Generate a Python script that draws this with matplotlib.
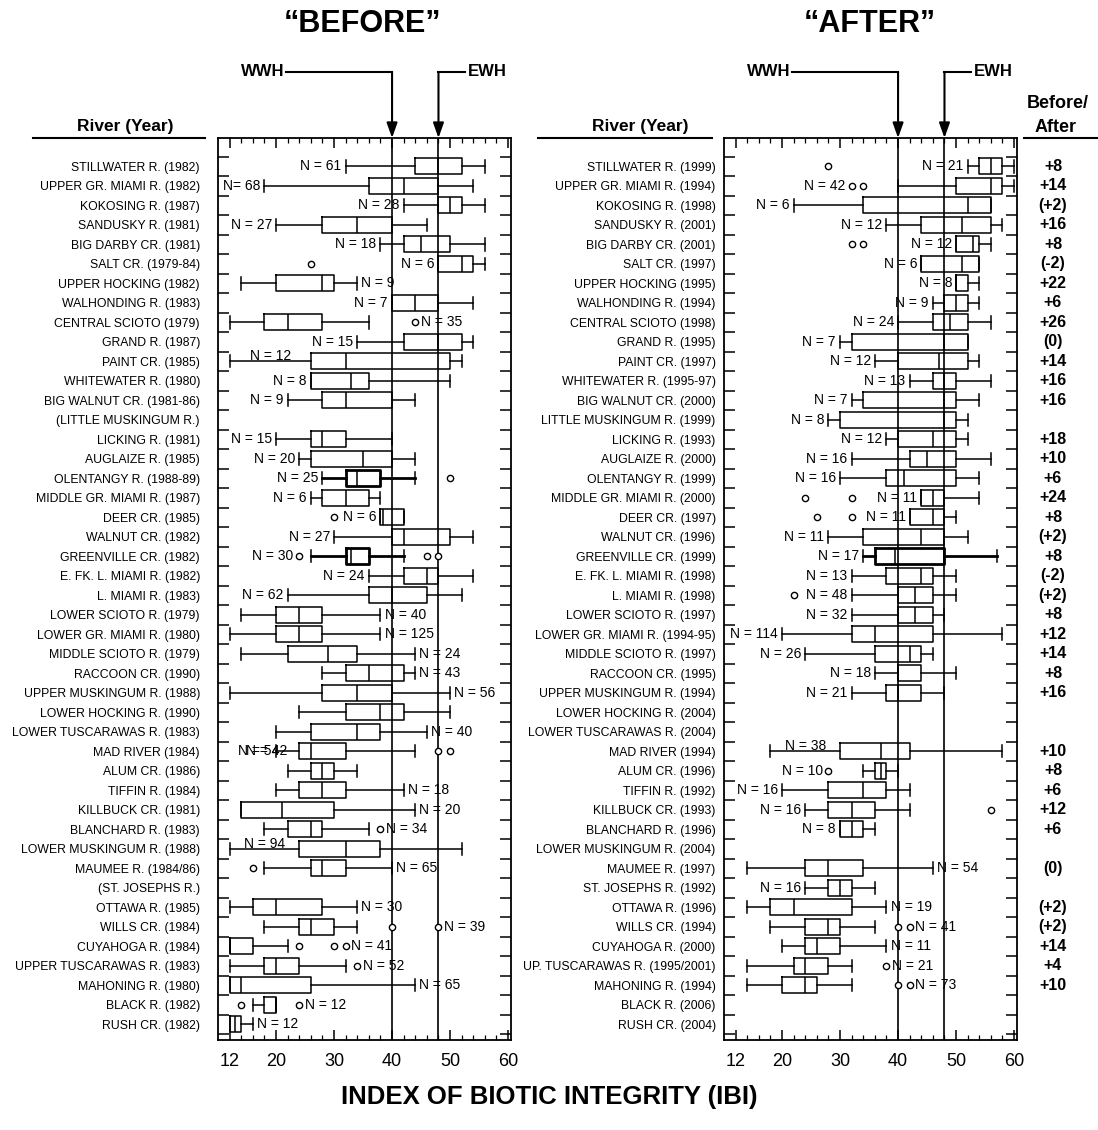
import numpy as np
import matplotlib
matplotlib.use('Agg')
import matplotlib.pyplot as plt
from matplotlib.lines import Line2D
from matplotlib.patches import FancyArrowPatch
from matplotlib.ticker import FixedLocator

W, H = 1098, 1130
NARROW = ['Liberation Sans Narrow', 'Liberation Sans', 'DejaVu Sans']
plt.rcParams['font.family'] = ['Liberation Sans', 'DejaVu Sans']

rivers_before = [
    'STILLWATER R. (1982)', 'UPPER GR. MIAMI R. (1982)', 'KOKOSING R. (1987)',
    'SANDUSKY R. (1981)', 'BIG DARBY CR. (1981)', 'SALT CR. (1979-84)',
    'UPPER HOCKING (1982)', 'WALHONDING R. (1983)', 'CENTRAL SCIOTO (1979)',
    'GRAND R. (1987)', 'PAINT CR. (1985)', 'WHITEWATER R. (1980)',
    'BIG WALNUT CR. (1981-86)', '(LITTLE MUSKINGUM R.)', 'LICKING R. (1981)',
    'AUGLAIZE R. (1985)', 'OLENTANGY R. (1988-89)', 'MIDDLE GR. MIAMI R. (1987)',
    'DEER CR. (1985)', 'WALNUT CR. (1982)', 'GREENVILLE CR. (1982)',
    'E. FK. L. MIAMI R. (1982)', 'L. MIAMI R. (1983)', 'LOWER SCIOTO R. (1979)',
    'LOWER GR. MIAMI R. (1980)', 'MIDDLE SCIOTO R. (1979)', 'RACCOON CR. (1990)',
    'UPPER MUSKINGUM R. (1988)', 'LOWER HOCKING R. (1990)',
    'LOWER TUSCARAWAS R. (1983)', 'MAD RIVER (1984)', 'ALUM CR. (1986)',
    'TIFFIN R. (1984)', 'KILLBUCK CR. (1981)', 'BLANCHARD R. (1983)',
    'LOWER MUSKINGUM R. (1988)', 'MAUMEE R. (1984/86)', '(ST. JOSEPHS R.)',
    'OTTAWA R. (1985)', 'WILLS CR. (1984)', 'CUYAHOGA R. (1984)',
    'UPPER TUSCARAWAS R. (1983)', 'MAHONING R. (1980)', 'BLACK R. (1982)',
    'RUSH CR. (1982)',
]

rivers_after = [
    'STILLWATER R. (1999)', 'UPPER GR. MIAMI R. (1994)', 'KOKOSING R. (1998)',
    'SANDUSKY R. (2001)', 'BIG DARBY CR. (2001)', 'SALT CR. (1997)',
    'UPPER HOCKING (1995)', 'WALHONDING R. (1994)', 'CENTRAL SCIOTO (1998)',
    'GRAND R. (1995)', 'PAINT CR. (1997)', 'WHITEWATER R. (1995-97)',
    'BIG WALNUT CR. (2000)', 'LITTLE MUSKINGUM R. (1999)', 'LICKING R. (1993)',
    'AUGLAIZE R. (2000)', 'OLENTANGY R. (1999)', 'MIDDLE GR. MIAMI R. (2000)',
    'DEER CR. (1997)', 'WALNUT CR. (1996)', 'GREENVILLE CR. (1999)',
    'E. FK. L. MIAMI R. (1998)', 'L. MIAMI R. (1998)', 'LOWER SCIOTO R. (1997)',
    'LOWER GR. MIAMI R. (1994-95)', 'MIDDLE SCIOTO R. (1997)', 'RACCOON CR. (1995)',
    'UPPER MUSKINGUM R. (1994)', 'LOWER HOCKING R. (2004)',
    'LOWER TUSCARAWAS R. (2004)', 'MAD RIVER (1994)', 'ALUM CR. (1996)',
    'TIFFIN R. (1992)', 'KILLBUCK CR. (1993)', 'BLANCHARD R. (1996)',
    'LOWER MUSKINGUM R. (2004)', 'MAUMEE R. (1997)', 'ST. JOSEPHS R. (1992)',
    'OTTAWA R. (1996)', 'WILLS CR. (1994)', 'CUYAHOGA R. (2000)',
    'UP. TUSCARAWAS R. (1995/2001)', 'MAHONING R. (1994)', 'BLACK R. (2006)',
    'RUSH CR. (2004)',
]

# (low whisker, Q1, median, Q3, high whisker); None where no data
ibi_before = [
    (32, 44, 48, 52, 56), (18, 36, 42, 48, 54), (42, 48, 50, 52, 56),
    (20, 28, 34, 40, 46), (38, 42, 45, 50, 56), (48, 48, 52, 54, 56),
    (14, 20, 28, 30, 34), (40, 40, 44, 48, 54), (12, 18, 22, 28, 36),
    (34, 42, 48, 52, 54), (12, 26, 32, 50, 52), (26, 26, 33, 36, 50),
    (22, 28, 32, 40, 44), None, (20, 26, 28, 32, 40),
    (24, 26, 35, 40, 44), (28, 32, 34, 38, 44), (26, 28, 32, 36, 38),
    (38, 38, 38.5, 42, 42), (30, 40, 42, 50, 54), (26, 32, 33, 36, 42),
    (36, 42, 46, 48, 54), (22, 36, 40, 46, 52), (14, 20, 24, 28, 38),
    (12, 20, 24, 28, 38), (14, 22, 29, 34, 44), (28, 32, 36, 42, 44),
    (12, 28, 34, 40, 50), (24, 32, 38, 42, 50), (20, 26, 34, 38, 46),
    (20, 24, 26, 32, 44), (22, 26, 28, 30, 34), (20, 24, 28, 32, 42),
    (14, 14, 21, 30, 44), (18, 22, 26, 28, 36), (12, 24, 32, 38, 52),
    (18, 26, 28, 32, 40), None, (12, 16, 20, 28, 34),
    (18, 24, 26, 30, 34), (12, 12, 12, 16, 22), (12, 18, 20, 24, 32),
    (12, 12, 14, 26, 44), (16, 18, 20, 20, 20), (12, 12, 13, 14, 16),
]
fliers_before = {5: [26], 8: [44], 16: [50], 18: [30], 20: [24, 46, 48],
                 30: [48, 50], 34: [38], 36: [16], 39: [40, 48],
                 40: [24, 30, 32], 41: [34], 43: [14, 24]}
n_before = [
    'N = 61', 'N= 68', 'N = 28', 'N = 27', 'N = 18', 'N = 6', 'N = 9', 'N = 7',
    'N = 35', 'N = 15', 'N = 12', 'N = 8', 'N = 9', '', 'N = 15', 'N = 20',
    'N = 25', 'N = 6', 'N = 6', 'N = 27', 'N = 30', 'N = 24', 'N = 62',
    'N = 40', 'N = 125', 'N = 24', 'N = 43', 'N = 56', '', 'N = 40',
    ('N = 54', 'N = 42'), '', 'N = 18', 'N = 20', 'N = 34', 'N = 94',
    'N = 65', '', 'N = 30', 'N = 39', 'N = 41', 'N = 52', 'N = 65', 'N = 12',
    'N = 12',
]

ibi_after = [
    (52, 54, 56, 58, 60), (40, 50, 56, 58, 60), (22, 34, 52, 56, 56),
    (38, 44, 51, 56, 58), (50, 50, 53, 54, 56), (44, 44, 51, 54, 54),
    (50, 50, 50, 52, 54), (46, 48, 50, 52, 54), (40, 46, 49, 52, 56),
    (30, 32, 48, 52, 52), (36, 40, 47, 52, 54), (42, 46, 48, 50, 56),
    (32, 34, 48, 50, 54), (28, 30, 48, 50, 52), (38, 40, 46, 50, 52),
    (32, 42, 45, 50, 56), (30, 38, 41, 50, 54), (44, 44, 46, 48, 54),
    (42, 42, 46, 48, 50), (28, 34, 44, 48, 52), (34, 36, 39.5, 48, 57),
    (32, 38, 44, 46, 50), (32, 40, 43, 46, 50), (32, 40, 43, 46, 48),
    (20, 32, 36, 46, 58), (24, 36, 42, 44, 46), (36, 40, 40, 44, 50),
    (32, 38, 40, 44, 48), None, None,
    (18, 30, 37, 42, 58), (34, 36, 37, 38, 40), (20, 28, 34, 38, 42),
    (24, 28, 32, 36, 42), (30, 30, 32, 34, 36), None,
    (14, 24, 28, 34, 46), (24, 28, 30, 32, 36), (14, 18, 22, 32, 38),
    (18, 24, 28, 30, 36), (20, 24, 26, 30, 38), (14, 22, 24, 28, 32),
    (14, 20, 24, 26, 32), None, None,
]
fliers_after = {0: [28], 1: [32, 34], 4: [32, 34], 17: [24, 32], 18: [26, 32],
                22: [22], 31: [28], 33: [56], 39: [40, 42], 41: [38], 42: [40, 42]}
n_after = [
    'N = 21', 'N = 42', 'N = 6', 'N = 12', 'N = 12', 'N = 6', 'N = 8', 'N = 9',
    'N = 24', 'N = 7', 'N = 12', 'N = 13', 'N = 7', 'N = 8', 'N = 12',
    'N = 16', 'N = 16', 'N = 11', 'N = 11', 'N = 11', 'N = 17', 'N = 13',
    'N = 48', 'N = 32', 'N = 114', 'N = 26', 'N = 18', 'N = 21', '', '',
    'N = 38', 'N = 10', 'N = 16', 'N = 16', 'N = 8', '', 'N = 54', 'N = 16',
    'N = 19', 'N = 41', 'N = 11', 'N = 21', 'N = 73', '', '',
]

ibi_change = [
    '+8', '+14', '(+2)', '+16', '+8', '(-2)', '+22', '+6', '+26', '(0)',
    '+14', '+16', '+16', '', '+18', '+10', '+6', '+24', '+8', '(+2)', '+8',
    '(-2)', '(+2)', '+8', '+12', '+14', '+8', '+16', '', '', '+10', '+8',
    '+6', '+12', '+6', '', '(0)', '', '(+2)', '(+2)', '+14', '+4', '+10', '', '',
]

WWH, EWH = 40, 48

# where the N label sits: L left of low whisker, LO left of lowest outlier,
# R right of high whisker, RO right of highest outlier, A above the low whisker
nloc_before = ['L', 'L', 'L', 'L', 'L', 'L', 'R', 'L', 'RO', 'L', 'A', 'L', 'L', '',
               'L', 'L', 'L', 'L', 'L', 'L', 'LO', 'L', 'L', 'R', 'R', 'R', 'R', 'R',
               '', 'R', 'L', '', 'R', 'R', 'RO', 'A', 'R', '', 'R', 'RO', 'RO', 'RO',
               'R', 'RO', 'R']
nloc_after = ['L', 'LO', 'L', 'L', 'L', 'L', 'L', 'L', 'L', 'L', 'L', 'L', 'L', 'L',
              'L', 'L', 'L', 'L', 'L', 'L', 'L', 'L', 'L', 'L', 'L', 'L', 'L', 'L',
              '', '', 'A', 'LO', 'L', 'L', 'L', '', 'R', 'L', 'R', 'RO', 'R', 'RO',
              'RO', '', '']
bold_before = {16, 20}
bold_after = {20}


def fx(x):
    return x / W


def fy(y):
    return 1 - y / H


def draw_panel(ax, rivers, boxes, fliers, nlabels, nloc, bold, label_pad):
    rows = len(rivers)
    for i, b in enumerate(boxes):
        if b is None:
            continue
        lo, q1, med, q3, hi = b
        st = dict(whislo=lo, q1=q1, med=med, q3=q3, whishi=hi,
                  fliers=fliers.get(i, []))
        lw = 2.0 if i in bold else 1.1
        ax.bxp([st], positions=[i], widths=0.82, orientation='horizontal',
               manage_ticks=False, capwidths=0.62,
               boxprops=dict(color='black', lw=lw),
               whiskerprops=dict(color='black', lw=lw),
               capprops=dict(color='black', lw=1.1),
               medianprops=dict(color='black', lw=1.1),
               flierprops=dict(marker='o', markersize=4.5, markerfacecolor='white',
                               markeredgecolor='black', markeredgewidth=1.0))

        lab = nlabels[i]
        loc = nloc[i]
        fl = fliers.get(i, [])
        kw = dict(fontsize=10, color='black', va='center', zorder=5)
        if isinstance(lab, tuple):
            # two counts printed on top of each other
            for k, s in enumerate(lab):
                ax.text(lo + 0.6 + 1.4 * k, i, s, ha='right', **kw)
        elif loc == 'L':
            ax.text(lo - 0.7, i, lab, ha='right', **kw)
        elif loc == 'LO':
            ax.text(min(fl) - 1.0, i, lab, ha='right', **kw)
        elif loc == 'R':
            ax.text(hi + 0.7, i, lab, ha='left', **kw)
        elif loc == 'RO':
            ax.text(max(fl) + 1.0, i, lab, ha='left', **kw)
        elif loc == 'A':
            ax.text((lo + q1) / 2, i + 0.1, lab, ha='center',
                    fontsize=10, va='bottom', zorder=5)

    ax.axvline(WWH, color='black', lw=1.2, zorder=1)
    ax.axvline(EWH, color='black', lw=1.2, zorder=1)

    ax.set_xlim(10, 60.5)
    ax.set_ylim(rows - 0.2, -1.46)

    ax.set_yticks(np.arange(rows))
    ax.set_yticklabels(rivers, fontsize=8.8)
    ax.yaxis.set_minor_locator(FixedLocator(np.arange(-0.5, rows, 1.0)))
    ax.tick_params(axis='y', which='major', length=0, pad=label_pad)
    ax.tick_params(axis='y', which='minor', direction='in', length=8, width=1.1,
                   left=True, right=True)

    ax.set_xticks([12, 20, 30, 40, 50, 60])
    ax.xaxis.set_minor_locator(FixedLocator(np.arange(12, 61, 2)))
    ax.tick_params(axis='x', which='major', direction='in', length=7, width=1.1,
                   top=True, bottom=True, labelsize=13, pad=9)
    ax.tick_params(axis='x', which='minor', direction='in', length=3.5, width=0.9,
                   top=True, bottom=True)
    for sp in ax.spines.values():
        sp.set_linewidth(1.3)


def threshold_arrows(fig, ax):
    # WWH / EWH pointers from the labels down onto the top of the axes
    inv = fig.transFigure.inverted()
    xa = inv.transform(ax.transData.transform((WWH, 0)))[0]
    xb = inv.transform(ax.transData.transform((EWH, 0)))[0]
    top = inv.transform(ax.transAxes.transform((0, 1)))[1]
    yl = fy(72)
    for xv in (xa, xb):
        fig.add_artist(FancyArrowPatch(
            (xv, yl), (xv, top), transform=fig.transFigure,
            arrowstyle='-|>,head_length=9,head_width=3.2', mutation_scale=1,
            lw=1.5, color='black', shrinkA=0, shrinkB=0))
    fig.add_artist(Line2D([xa - fx(106), xa], [yl, yl], transform=fig.transFigure,
                          color='black', lw=1.5))
    fig.add_artist(Line2D([xb, xb + fx(27)], [yl, yl], transform=fig.transFigure,
                          color='black', lw=1.5))
    fig.text(xa - fx(108), yl, 'WWH', ha='right', va='center', fontsize=12,
             fontweight='bold', family=NARROW)
    fig.text(xb + fx(29), yl, 'EWH', ha='left', va='center', fontsize=12,
             fontweight='bold', family=NARROW)


def main():
    fig = plt.figure(figsize=(W / 100, H / 100), dpi=100)
    ax1 = fig.add_axes([fx(218), fy(1040), fx(511 - 218), fy(138) - fy(1040)])
    ax2 = fig.add_axes([fx(724), fy(1040), fx(1017 - 724), fy(138) - fy(1040)])

    draw_panel(ax1, rivers_before, ibi_before, fliers_before, n_before,
               nloc_before, bold_before, 13)
    draw_panel(ax2, rivers_after, ibi_after, fliers_after, n_after,
               nloc_after, bold_after, 6)

    # Before/After differences alongside the right panel
    inv = fig.transFigure.inverted()
    for i, s in enumerate(ibi_change):
        if s:
            y = inv.transform(ax2.transData.transform((0, i)))[1]
            fig.text(fx(1053), y, s, ha='center', va='center',
                     fontsize=11.5, fontweight='bold')

    threshold_arrows(fig, ax1)
    threshold_arrows(fig, ax2)

    fig.text(fx(363), fy(24), '\u201cBEFORE\u201d', ha='center', va='center',
             fontsize=22, fontweight='bold', family=NARROW)
    fig.text(fx(870), fy(24), '\u201cAFTER\u201d', ha='center', va='center',
             fontsize=22, fontweight='bold', family=NARROW)

    for xc, x0, x1 in ((125, 33, 205), (640, 538, 712)):
        fig.text(fx(xc), fy(126), 'River (Year)', ha='center', va='center',
                 fontsize=12.5, fontweight='bold', family=NARROW)
        fig.add_artist(Line2D([fx(x0), fx(x1)], [fy(138), fy(138)],
                              transform=fig.transFigure, color='black', lw=1.5))

    fig.text(fx(1058), fy(104), 'Before/', ha='center', va='center',
             fontsize=13, fontweight='bold', family=NARROW)
    fig.text(fx(1056), fy(127), 'After', ha='center', va='center',
             fontsize=13, fontweight='bold', family=NARROW)
    fig.add_artist(Line2D([fx(1024), fx(1098)], [fy(138), fy(138)],
                          transform=fig.transFigure, color='black', lw=1.5))

    fig.text(fx(549), fy(1097), 'INDEX OF BIOTIC INTEGRITY (IBI)', ha='center',
             va='center', fontsize=18.5, fontweight='bold', family=NARROW)

    fig.savefig('out.png', dpi=100)


if __name__ == '__main__':
    main()
